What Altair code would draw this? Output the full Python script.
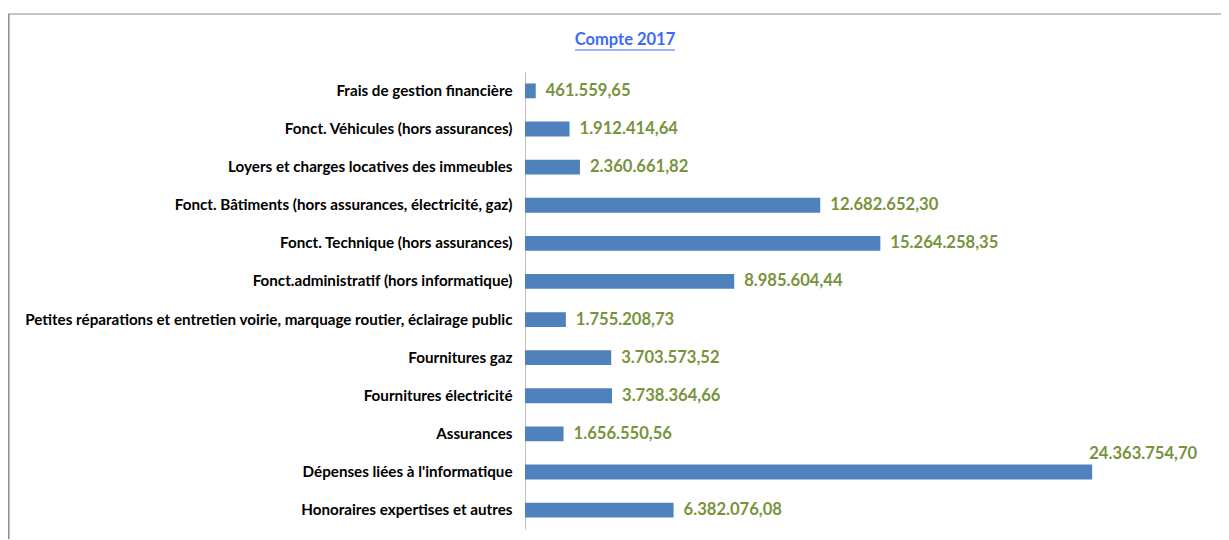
import altair as alt
import pandas as pd

categories = [
    "Frais de gestion financière",
    "Fonct. Véhicules (hors assurances)",
    "Loyers et charges locatives des immeubles",
    "Fonct. Bâtiments (hors assurances, électricité, gaz)",
    "Fonct. Technique (hors assurances)",
    "Fonct.administratif  (hors informatique)",
    "Petites réparations et entretien voirie, marquage routier, éclairage public",
    "Fournitures gaz",
    "Fournitures électricité",
    "Assurances",
    "Dépenses liées à l'informatique",
    "Honoraires expertises et autres",
]
values = [
    461559.65, 1912414.64, 2360661.82, 12682652.30, 15264258.35, 8985604.44,
    1755208.73, 3703573.52, 3738364.66, 1656550.56, 24363754.70, 6382076.08,
]
labels = [
    "461.559,65", "1.912.414,64", "2.360.661,82", "12.682.652,30", "15.264.258,35",
    "8.985.604,44", "1.755.208,73", "3.703.573,52", "3.738.364,66", "1.656.550,56",
    "24.363.754,70", "6.382.076,08",
]
title_text = "Compte 2017"

df = pd.DataFrame({"cat": categories, "value": values, "label": labels})

W, H = 582, 457
BAR = "#4F81BD"
GREEN = "#77933C"
FONT = "Lato"

y_enc = alt.Y(
    "cat:N", sort=categories, title=None,
    scale=alt.Scale(paddingInner=0.61, paddingOuter=0.3),
    axis=alt.Axis(labelFont=FONT, labelFontWeight="bold", labelFontSize=15.2,
                  labelColor="#000000", ticks=False, labelPadding=13,
                  domainColor="#BFBFBF", labelLimit=700),
)
x_enc = alt.X("value:Q", title=None,
              scale=alt.Scale(domain=[0, 25000000], nice=False),
              axis=None)

base = alt.Chart(df)
bars = base.mark_bar(color=BAR).encode(x=x_enc, y=y_enc)
txt_small = base.transform_filter("datum.value < 20000000").mark_text(
    align="left", baseline="middle", dx=10, font=FONT, fontWeight="bold",
    fontSize=16.6, color=GREEN
).encode(x=x_enc, y=y_enc, text="label:N")
txt_big = base.transform_filter("datum.value >= 20000000").mark_text(
    align="left", baseline="middle", dx=-3, dy=-18, font=FONT, fontWeight="bold",
    fontSize=16.6, color=GREEN
).encode(x=x_enc, y=y_enc, text="label:N")

title_df = pd.DataFrame({"t": [title_text]})
title = alt.Chart(title_df).mark_text(
    align="center", baseline="middle", font=FONT, fontWeight="bold",
    fontSize=16.5, color="#3A6CF4"
).encode(x=alt.value(100), y=alt.value(-32), text="t:N")
underline = alt.Chart(title_df).mark_rule(color="#3A6CF4", strokeWidth=1).encode(
    x=alt.value(50), x2=alt.value(150), y=alt.value(-22))

border_top = alt.Chart(title_df).mark_rule(color="#8C8C8C", strokeWidth=1.2).encode(
    x=alt.value(-517), x2=alt.value(710), y=alt.value(-58))
border_left = alt.Chart(title_df).mark_rule(color="#8C8C8C", strokeWidth=1.5).encode(
    x=alt.value(-516.2), y=alt.value(-58), y2=alt.value(480))

chart = alt.layer(border_top, border_left, bars, txt_small, txt_big, title, underline).properties(
    width=W, height=H,
    autosize=alt.AutoSizeParams(type="none"),
    padding={"left": 517, "top": 64, "right": 114, "bottom": 10},
).configure(background="#FFFFFF", view=alt.ViewConfig(stroke=None))

chart.save("out.html", embed_options={"renderer": "svg", "actions": False})
